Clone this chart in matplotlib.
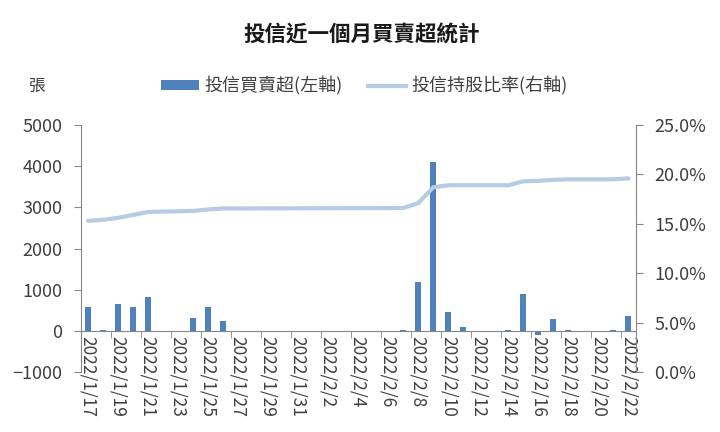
import matplotlib
matplotlib.use("Agg")
import matplotlib.pyplot as plt
from matplotlib.patches import Patch
from matplotlib.lines import Line2D
import pandas as pd

plt.rcParams['font.family'] = ['Noto Sans CJK TC', 'DejaVu Sans']

# ---- data ----
dates = ["2022-01-17", "2022-01-18", "2022-01-19", "2022-01-20", "2022-01-21",
         "2022-01-24", "2022-01-25", "2022-01-26",
         "2022-02-07", "2022-02-08", "2022-02-09", "2022-02-10", "2022-02-11",
         "2022-02-14", "2022-02-15", "2022-02-16", "2022-02-17", "2022-02-18",
         "2022-02-21", "2022-02-22"]
net_buy = [570, 30, 650, 570, 810,
           317, 570, 250,
           30, 1180, 4110, 455, 105,
           25, 900, -100, 290, 25,
           25, 365]
holding_pct = [15.3, 15.4, 15.6, 15.9, 16.2,
               16.3, 16.45, 16.55,
               16.6, 17.1, 18.7, 18.9, 18.9,
               18.9, 19.3, 19.35, 19.45, 19.5,
               19.5, 19.6]
title = "投信近一個月買賣超統計"
bar_label = "投信買賣超(左軸)"
line_label = "投信持股比率(右軸)"
unit_label = "張"
tick_start = "2022-01-17"
tick_end = "2022-02-22"

bar_color = "#4F81BD"
line_color = "#B7CBE4"
axis_color = "#868686"
text_color = "#404040"

x = pd.to_datetime(dates)
tick_dates = pd.date_range(tick_start, tick_end, freq="2D")
half = pd.Timedelta(hours=12)

fig = plt.figure(figsize=(7.2, 4.32), dpi=100)
ax = fig.add_axes([80.5 / 720, 1 - 372 / 432, (636 - 80.5) / 720, (372 - 125) / 432])
ax2 = ax.twinx()

ax.bar(x, net_buy, width=0.4, color=bar_color, zorder=2)
ax2.plot(x, holding_pct, color=line_color, lw=3, solid_capstyle='round', zorder=3)

ax.set_zorder(1)
ax2.set_zorder(2)
ax2.patch.set_visible(False)

ax.set_xticks(tick_dates)
ax.set_xticklabels([f"{d.year}/{d.month}/{d.day}" for d in tick_dates])
minor = [d - half for d in tick_dates] + [pd.Timestamp(tick_end) + half]
ax.set_xticks(minor, minor=True)
ax.set_xlim(pd.Timestamp(tick_start) - half, pd.Timestamp(tick_end) + half)

ax.set_ylim(-1000, 5000)
ax.set_yticks(range(-1000, 5001, 1000))
ax2.set_ylim(0, 25)
ax2.set_yticks([0, 5, 10, 15, 20, 25])
ax2.set_yticklabels([f"{v:.1f}%" for v in [0, 5, 10, 15, 20, 25]])

ax.tick_params(axis='x', which='major', length=0, pad=4, labelsize=12.5,
               colors=text_color, labelrotation=-90)
ax.tick_params(axis='x', which='minor', length=5, color=axis_color, direction='out')
ax.tick_params(axis='y', length=5, color=axis_color, labelsize=13, labelcolor=text_color, pad=8)
ax2.tick_params(axis='y', length=5, color=axis_color, labelsize=13, labelcolor=text_color, pad=8)
for lbl in ax.get_xticklabels():
    lbl.set_va('top')
    lbl.set_ha('center')

for a in (ax, ax2):
    a.spines['top'].set_visible(False)
    for s in ('left', 'right', 'bottom'):
        a.spines[s].set_color(axis_color)
ax.spines['bottom'].set_position(('data', 0))
ax2.spines['bottom'].set_visible(False)
ax.spines['right'].set_visible(False)
ax2.spines['left'].set_visible(False)

fig.text(362 / 720, 1 - 35 / 432, title, ha='center', va='center',
         fontsize=15.5, fontweight='bold', color='#1a1a1a')
fig.text(37 / 720, 1 - 86 / 432, unit_label, ha='center', va='center',
         fontsize=12, color=text_color)

handles = [Patch(facecolor=bar_color, edgecolor='none'),
           Line2D([0], [0], color=line_color, lw=3)]
fig.legend(handles, [bar_label, line_label], loc='center',
           bbox_to_anchor=(364 / 720, 1 - 86 / 432), ncol=2, frameon=False,
           fontsize=13, handlelength=2.1, handleheight=0.5, handletextpad=0.3,
           columnspacing=1.4, labelcolor=text_color)

fig.savefig("out.png", dpi=100, facecolor='white')
